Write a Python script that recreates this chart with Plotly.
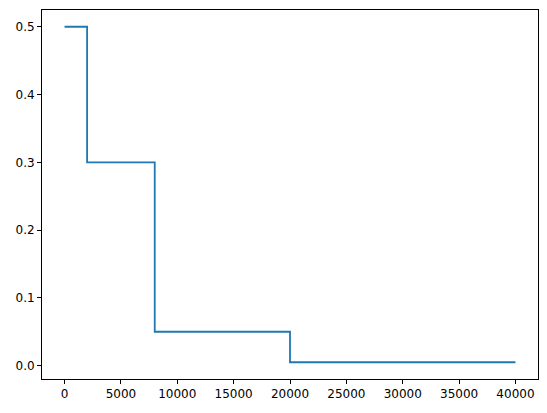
import plotly.graph_objects as go

# step boundaries and levels
steps = [0, 2000, 8000, 20000, 40000]
rates = [0.5, 0.3, 0.05, 0.005, 0.005]

x_ticks = [0, 5000, 10000, 15000, 20000, 25000, 30000, 35000, 40000]
y_ticks = [0.0, 0.1, 0.2, 0.3, 0.4, 0.5]

fig = go.Figure()
fig.add_trace(go.Scatter(x=steps, y=rates, mode="lines", line_shape="hv",
                         line=dict(color="#1f77b4", width=1.8)))

axis_style = dict(showgrid=False, zeroline=False, showline=True, mirror=True,
                  linecolor="black", linewidth=1, ticks="outside", ticklen=4,
                  tickwidth=1, tickcolor="black")

fig.update_xaxes(range=[-2000, 42000], tickvals=x_ticks,
                 ticktext=[str(v) for v in x_ticks], **axis_style)
fig.update_yaxes(range=[-0.01975, 0.52475], tickvals=y_ticks,
                 ticktext=["%.1f" % v for v in y_ticks], **axis_style)

# page body keeps an 8px margin, so the figure is drawn 8px smaller
fig.update_layout(width=539, height=405, showlegend=False,
                  plot_bgcolor="white", paper_bgcolor="white",
                  font=dict(family="DejaVu Sans", size=12, color="black"),
                  margin=dict(l=34, r=9, t=2, b=34))

fig.write_html("out.html")
